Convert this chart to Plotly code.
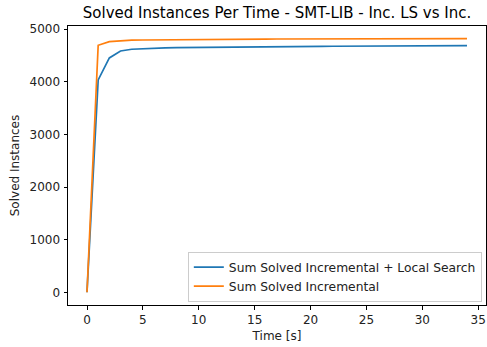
import plotly.graph_objects as go

time_s = list(range(0, 35))
inc_ls = [0, 4038, 4455, 4588, 4620, 4632, 4640, 4645, 4650, 4653,
          4656, 4659, 4661, 4663, 4665, 4667, 4669, 4670, 4672, 4673,
          4675, 4676, 4677, 4678, 4679, 4680, 4681, 4682, 4683, 4684,
          4686, 4687, 4688, 4689, 4690]
inc = [0, 4696, 4764, 4785, 4792, 4796, 4799, 4802, 4804, 4806,
       4808, 4809, 4810, 4811, 4812, 4813, 4814, 4815, 4815, 4816,
       4816, 4817, 4817, 4818, 4818, 4818, 4819, 4819, 4819, 4820,
       4820, 4820, 4820, 4821, 4821]

font = "DejaVu Sans"
fig = go.Figure()
fig.add_trace(go.Scatter(x=time_s, y=inc_ls, mode="lines",
                         name="Sum Solved Incremental + Local Search",
                         line=dict(color="#1f77b4", width=1.7)))
fig.add_trace(go.Scatter(x=time_s, y=inc, mode="lines",
                         name="Sum Solved Incremental",
                         line=dict(color="#ff7f0e", width=1.7)))

axis_common = dict(showgrid=False, zeroline=False, showline=True, linecolor="black",
                   linewidth=1, mirror=True, ticks="outside", ticklen=3.5,
                   tickcolor="black", automargin=False,
                   tickfont=dict(family=font, size=12, color="#222222"))
fig.update_layout(
    width=487, height=347,
    margin=dict(l=68, r=1, t=26, b=42),
    paper_bgcolor="white", plot_bgcolor="white",
    title=dict(text="Solved Instances Per Time - SMT-LIB - Inc. LS vs Inc.",
               x=0.5, xref="paper", xanchor="center", y=1, yref="paper",
               yanchor="bottom", pad=dict(b=8),
               font=dict(family=font, size=15, color="black")),
    xaxis=dict(range=[-1.7, 35.7], tickvals=[0, 5, 10, 15, 20, 25, 30, 35],
               title=dict(text="Time [s]", font=dict(family=font, size=12, color="#222222"), standoff=5),
               **axis_common),
    yaxis=dict(range=[-241, 5062], tickvals=[0, 1000, 2000, 3000, 4000, 5000],
               ticklabelstandoff=1,
               title=dict(text="Solved Instances", font=dict(family=font, size=12, color="#222222"), standoff=7),
               **axis_common),
    legend=dict(x=0.99, y=0.012, xanchor="right", yanchor="bottom",
                bgcolor="rgba(255,255,255,0.8)", bordercolor="#cccccc", borderwidth=1,
                font=dict(family=font, size=12.3, color="#222222"), tracegroupgap=0,
                itemwidth=30),
    showlegend=True,
)
fig.write_html("out.html", config={"displayModeBar": False},
               post_script="document.body.style.margin='0';document.body.style.overflow='hidden';")
